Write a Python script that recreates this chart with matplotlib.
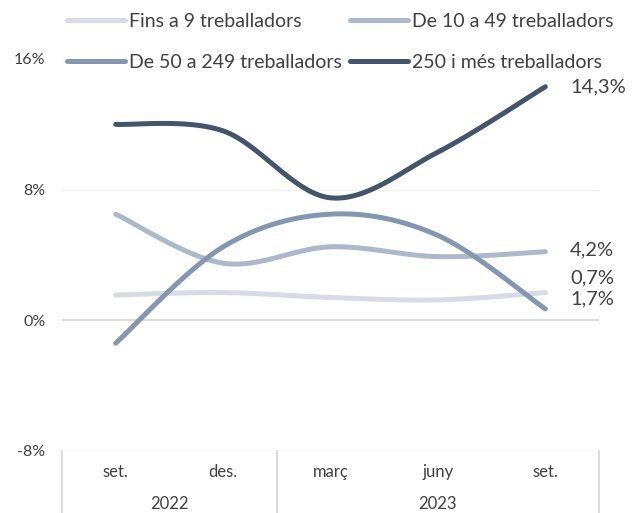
import matplotlib
matplotlib.use("Agg")
import matplotlib.pyplot as plt
import numpy as np

months = ["set.", "des.", "març", "juny", "set."]
years = ["2022", "2023"]
series_names = ["Fins a 9 treballadors", "De 10 a 49 treballadors",
                "De 50 a 249 treballadors", "250 i més treballadors"]
fins9 = [1.55, 1.7, 1.4, 1.25, 1.7]
de10_49 = [6.5, 3.5, 4.5, 3.9, 4.2]
de50_249 = [-1.4, 4.5, 6.5, 5.2, 0.7]
mes250 = [12.0, 11.6, 7.5, 10.3, 14.3]
end_labels = ["1,7%", "4,2%", "0,7%", "14,3%"]
colors = ["#D6DCE5", "#ADB9CA", "#8497B0", "#44546A"]

plt.rcParams['font.family'] = ['Lato', 'DejaVu Sans']


def smooth(x, y, n=30):
    # catmull-rom style curve through the points, like excel smoothed lines
    x = np.asarray(x, float)
    y = np.asarray(y, float)
    px = np.concatenate([[x[0]], x, [x[-1]]])
    py = np.concatenate([[y[0]], y, [y[-1]]])
    xs, ys = [], []
    t = np.linspace(0, 1, n)
    for i in range(1, len(px) - 2):
        p0, p1, p2, p3 = (np.array([px[j], py[j]]) for j in range(i - 1, i + 3))
        c1 = p1 + (p2 - p0) / 6
        c2 = p2 - (p3 - p1) / 6
        for tt in t:
            b = ((1 - tt) ** 3) * p1 + 3 * ((1 - tt) ** 2) * tt * c1 + 3 * (1 - tt) * tt ** 2 * c2 + tt ** 3 * p2
            xs.append(b[0])
            ys.append(b[1])
    return xs, ys


fig = plt.figure(figsize=(6.42, 5.13), dpi=100)
ax = fig.add_axes([62 / 642, 1 - 451 / 513, (599 - 62) / 642, (451 - 59) / 513])

x = np.arange(len(months))
data = [fins9, de10_49, de50_249, mes250]
lines = []
for vals, name, c in zip(data, series_names, colors):
    sx, sy = smooth(x, vals)
    ln, = ax.plot(sx, sy, color=c, lw=3.6, solid_capstyle='round', label=name, zorder=3)
    lines.append(ln)

ax.set_xlim(-0.5, 4.5)
ax.set_ylim(-8, 16)
ax.set_yticks([-8, 0, 8, 16])
ax.set_yticklabels(["-8%", "0%", "8%", "16%"], fontsize=11.5, color="#404040")
ax.tick_params(axis='y', length=0, pad=12)
ax.set_xticks([])
for s in ax.spines.values():
    s.set_visible(False)
ax.axhline(8, color="#F0F0F0", lw=1, zorder=1)
ax.axhline(16, color="#F0F0F0", lw=1, zorder=1)
ax.axhline(0, color="#D9D9D9", lw=1.3, zorder=1)
ax.axhline(-8, color="#E4E4E4", lw=1, zorder=1)

# category box under the plot
for xv in [-0.5, 1.5, 4.5]:
    ax.plot([xv, xv], [-8, -13], color="#D9D9D9", lw=1.3, clip_on=False)
for i, m in enumerate(months):
    ax.text(i, -9.3, m, ha='center', va='center', fontsize=12, color="#404040", clip_on=False)
ax.text(0.5, -11.25, years[0], ha='center', va='center', fontsize=12, color="#404040", clip_on=False)
ax.text(3, -11.25, years[1], ha='center', va='center', fontsize=12, color="#404040", clip_on=False)

# end labels
label_y = [1.3, 4.3, 2.6, 14.3]
for ly, txt in zip(label_y, end_labels):
    ax.text(4.23, ly, txt, ha='left', va='center', fontsize=14.5, color="#404040")

order = [0, 2, 1, 3]
fig.legend([lines[i] for i in order], [series_names[i] for i in order],
           loc='upper left', bbox_to_anchor=(67 / 642, 1 - 13 / 513), ncol=2, frameon=False,
           fontsize=14, handlelength=3.0, handletextpad=0.2, columnspacing=0.4,
           labelspacing=1.22, labelcolor="#404040", borderaxespad=0, borderpad=0)

fig.savefig("out.png", dpi=100)
